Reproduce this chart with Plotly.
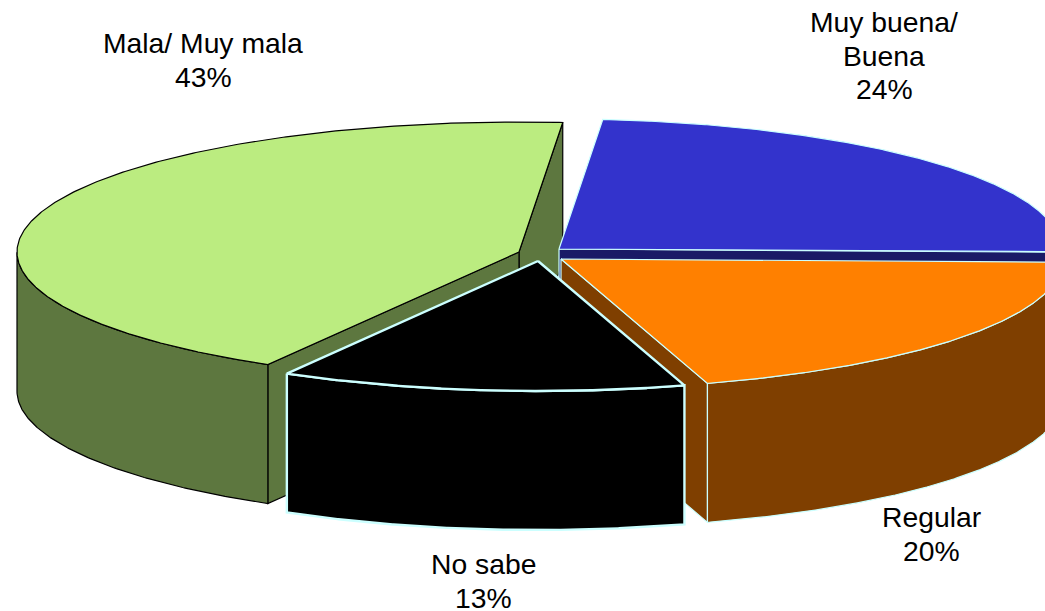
import numpy as np
import plotly.graph_objects as go

# ---- data ----
categories = ["Mala/ Muy mala", "Muy buena/ Buena", "Regular", "No sabe"]
values = [43.05, 24.0, 19.9, 13.05]
label_lines = [["Mala/ Muy mala"], ["Muy buena/", "Buena"], ["Regular"], ["No sabe"]]

# ---- style ----
top_colors = ["#bbec80", "#3333cc", "#ff8000", "#000000"]
wall_colors = ["#5d773f", "#1a1a66", "#7f3f00", "#000000"]
edge_colors = ["#000000", "#ccffff", "#ccffff", "#ccffff"]
edge_widths = [1.2, 1.2, 1.2, 2.4]

# ---- geometry of the tilted pie (pixels of the page) ----
W, H = 1045, 611
RX, RY, DEPTH = 502, 130, 139
START_DEG = 85
apex_x = [519, 559, 561, 538]
apex_y = [252, 249, 259, 261]
label_x = [203, 884, 931, 483]
label_y = [43, 22, 517, 564]
LINE_STEP = 33.5

fig = go.Figure()


def poly(xs, ys, fill, edge, width):
    fig.add_trace(go.Scatter(
        x=xs, y=ys, mode="lines", fill="toself", fillcolor=fill,
        line=dict(color=edge, width=width), hoverinfo="skip", showlegend=False,
    ))


def rim(cx, cy, angles):
    return cx + RX * np.cos(angles), cy - RY * np.sin(angles)


# Mala runs counter-clockwise from the start angle, the rest clockwise
total = sum(values)
bounds = [(START_DEG, START_DEG + values[0] / total * 360)]
hi = START_DEG
for v in values[1:]:
    lo = hi - v / total * 360
    bounds.append((lo, hi))
    hi = lo

for i, (lo_d, hi_d) in enumerate(bounds):
    lo, hi = np.radians(lo_d), np.radians(hi_d)
    cx, cy = apex_x[i], apex_y[i]
    top, wall, edge, lw = top_colors[i], wall_colors[i], edge_colors[i], edge_widths[i]

    # Radial walls facing the viewer
    for ang, visible in ((lo, np.cos(lo) > 0), (hi, np.cos(hi) < 0)):
        if visible:
            rx, ry = rim(cx, cy, np.array([ang]))
            poly([cx, rx[0], rx[0], cx, cx],
                 [cy, ry[0], ry[0] + DEPTH, cy + DEPTH, cy], wall, edge, lw)

    # Outer curved wall: the part of the rim on the near side
    t = np.linspace(lo, hi, 400)
    near = t[np.sin(t) <= 0]
    if near.size:
        rx, ry = rim(cx, cy, near)
        poly(np.r_[rx, rx[::-1], rx[0]], np.r_[ry, ry[::-1] + DEPTH, ry[0]], wall, edge, lw)

    # Top face
    rx, ry = rim(cx, cy, t)
    poly(np.r_[cx, rx, cx], np.r_[cy, ry, cy], top, edge, lw)

annotations = []
for i, lines in enumerate(label_lines):
    rows = lines + [f"{round(values[i])}%"]
    for k, row in enumerate(rows):
        annotations.append(dict(
            x=label_x[i], y=label_y[i] + k * LINE_STEP, xref="x", yref="y",
            text=row, showarrow=False, xanchor="center", yanchor="middle",
            font=dict(family="Liberation Sans", size=28.3, color="#000000"),
        ))

fig.update_layout(
    width=W, height=H, margin=dict(l=0, r=0, t=0, b=0),
    paper_bgcolor="#ffffff", plot_bgcolor="#ffffff",
    xaxis=dict(range=[0, W], visible=False, fixedrange=True),
    yaxis=dict(range=[H, 0], visible=False, fixedrange=True),
    annotations=annotations, showlegend=False,
)
fig.write_html(
    "out.html",
    config=dict(displayModeBar=False),
    post_script="document.body.style.margin='0';document.documentElement.style.overflow='hidden';",
)
